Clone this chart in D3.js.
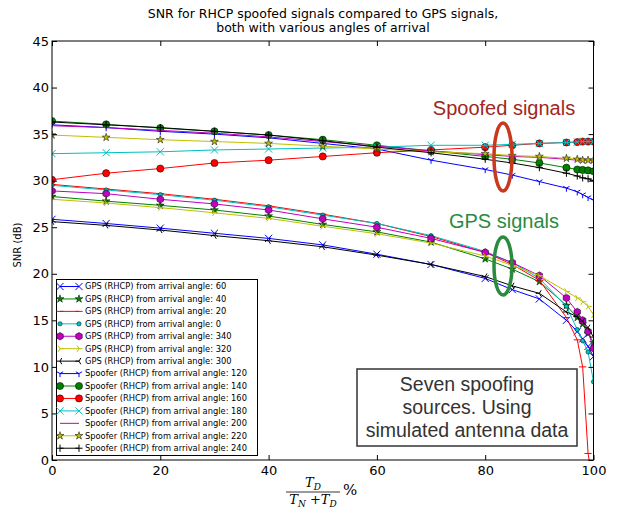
<!DOCTYPE html>
<html><head><meta charset="utf-8">
<script src="https://cdn.jsdelivr.net/npm/d3@7"></script>
<style>body{margin:0;background:#fff}svg{display:block}</style></head>
<body><svg id="c" width="622" height="510"></svg>
<script>
// ---- data ----
const xValues = [0,10,20,30,40,50,60,70,80,85,90,95,97,98,99,100];
const xTicks = [0,20,40,60,80,100];
const yTicks = [0,5,10,15,20,25,30,35,40,45];
const seriesNames = [
  "GPS (RHCP) from arrival angle: 60","GPS (RHCP) from arrival angle: 40","GPS (RHCP) from arrival angle: 20",
  "GPS (RHCP) from arrival angle: 0","GPS (RHCP) from arrival angle: 340","GPS (RHCP) from arrival angle: 320",
  "GPS (RHCP) from arrival angle: 300","Spoofer (RHCP) from arrival angle: 120","Spoofer (RHCP) from arrival angle: 140",
  "Spoofer (RHCP) from arrival angle: 160","Spoofer (RHCP) from arrival angle: 180","Spoofer (RHCP) from arrival angle: 200",
  "Spoofer (RHCP) from arrival angle: 220","Spoofer (RHCP) from arrival angle: 240"];
const gps60  = [25.85,25.4,24.9,24.35,23.8,23.1,22.1,21.0,19.5,18.3,17.3,15.0,13.8,13.0,12.2,11.1];
const gps40  = [28.3,27.8,27.35,26.85,26.2,25.3,24.5,23.4,21.6,20.5,19.15,16.6,15.3,14.6,13.6,12.6];
const gps20  = [29.6,29.1,28.6,28.0,27.3,26.4,25.4,24.0,22.3,21.0,19.3,15.3,12.9,10.0,0.7,-3];
const gps0   = [29.5,29.0,28.5,27.9,27.2,26.3,25.4,24.1,22.4,21.2,19.5,16.5,14.0,12.8,11.6,8.4];
const gps340 = [28.9,28.6,28.0,27.5,26.85,25.9,25.0,23.8,22.3,21.2,19.8,17.4,15.9,15.0,13.8,12.0];
const gps320 = [28.0,27.6,27.1,26.55,25.95,25.1,24.3,23.3,21.9,20.9,19.8,18.1,17.4,17.0,16.5,15.6];
const gps300 = [25.6,25.2,24.7,24.1,23.55,22.9,22.0,21.0,19.7,18.7,17.9,15.9,15.4,14.9,14.2,13.2];
const spf120 = [36.0,35.7,35.3,35.0,34.6,34.0,33.4,32.2,31.2,30.6,29.9,29.2,28.8,28.5,28.2,27.9];
const spf140 = [36.4,36.05,35.65,35.3,34.9,34.4,33.8,33.2,32.6,32.3,31.9,31.4,31.2,31.15,31.1,31.0];
const spf160 = [30.1,30.8,31.3,31.9,32.2,32.6,33.0,33.3,33.6,33.8,34.0,34.1,34.15,34.2,34.2,34.2];
const spf180 = [32.9,33.0,33.1,33.3,33.4,33.5,33.6,33.8,33.8,33.9,34.0,34.1,34.15,34.2,34.2,34.2];
const spf200 = [35.9,35.7,35.4,35.1,34.7,34.2,33.7,33.2,32.8,32.6,32.5,32.3,32.2,32.2,32.2,32.1];
const spf220 = [34.9,34.65,34.4,34.2,34.0,33.7,33.4,33.1,32.9,32.7,32.6,32.4,32.3,32.2,32.2,32.2];
const spf240 = [36.3,36.0,35.7,35.3,34.9,34.3,33.6,33.0,32.3,31.9,31.4,30.8,30.5,30.3,30.2,30.0];
const seriesValues = [gps60,gps40,gps20,gps0,gps340,gps320,gps300,spf120,spf140,spf160,spf180,spf200,spf220,spf240];
const seriesColors = ["#0000ff","#008000","#ff0000","#00bfbf","#bf00bf","#bfbf00","#000000",
                      "#0000ff","#008000","#ff0000","#00bfbf","#bf00bf","#bfbf00","#000000"];
const seriesMarkers = ["x","star","_","dot","hex","tri_right","tri_left","tri_down","circle","circle","x","none","star","+"];

(function(){
const L=52, R=593.5, T=41, B=460;
const svg = d3.select("#c");
const x = d3.scaleLinear().domain([0,100]).range([L,R]);
const y = d3.scaleLinear().domain([0,45]).range([B,T]);

function markerPath(type, r){
  const c30=Math.cos(Math.PI/6), s30=0.5;
  switch(type){
    case "x": return `M${-r},${-r}L${r},${r}M${-r},${r}L${r},${-r}`;
    case "+": return `M${-r},0L${r},0M0,${-r}L0,${r}`;
    case "_": return `M${-r},0L${r},0`;
    case "tri_down": return `M0,0L0,${r}M0,0L${-r*c30},${-r*s30}M0,0L${r*c30},${-r*s30}`;
    case "tri_left": return `M0,0L${-r},0M0,0L${r*s30},${-r*c30}M0,0L${r*s30},${r*c30}`;
    case "tri_right": return `M0,0L${r},0M0,0L${-r*s30},${-r*c30}M0,0L${-r*s30},${r*c30}`;
    case "circle": return d3.arc()({innerRadius:0,outerRadius:r,startAngle:0,endAngle:2*Math.PI});
    case "dot": return d3.arc()({innerRadius:0,outerRadius:r*0.6,startAngle:0,endAngle:2*Math.PI});
    case "hex": { let p=[]; for(let i=0;i<6;i++){const a=Math.PI/3*i-Math.PI/2; p.push([r*1.05*Math.cos(a), r*1.05*Math.sin(a)]);} return "M"+p.join("L")+"Z"; }
    case "star": { let p=[]; for(let i=0;i<10;i++){const a=Math.PI/5*i-Math.PI/2; const rr=(i%2?0.42:1.15)*r; p.push([rr*Math.cos(a), rr*Math.sin(a)]);} return "M"+p.join("L")+"Z"; }
  }
  return "";
}
const filled = {circle:true,dot:true,hex:true,star:true};
function drawMarkers(g, type, color, pts){
  if(type==="none") return;
  const r = 3.6;
  g.selectAll(null).data(pts).enter().append("path")
    .attr("transform", d=>`translate(${d[0]},${d[1]})`)
    .attr("d", markerPath(type, r))
    .attr("fill", filled[type]?color:"none")
    .attr("stroke", filled[type]?"#000":color)
    .attr("stroke-width", filled[type]?0.5:1);
}

svg.append("defs").append("clipPath").attr("id","clip")
  .append("rect").attr("x",L).attr("y",T).attr("width",R-L).attr("height",B-T);

const plot = svg.append("g").attr("clip-path","url(#clip)");
const line = d3.line().x(d=>d[0]).y(d=>d[1]);
seriesValues.forEach((vals,i)=>{
  const pts = xValues.map((xv,j)=>[x(xv), y(vals[j])]);
  const g = plot.append("g");
  g.append("path").attr("d", line(pts)).attr("fill","none")
    .attr("stroke", seriesColors[i]).attr("stroke-width",1);
  drawMarkers(g, seriesMarkers[i], seriesColors[i], pts);
});

const fontTick = "DejaVu Sans, sans-serif";
const ax = svg.append("g");
ax.append("g").attr("transform",`translate(0,${B})`)
  .call(d3.axisBottom(x).tickValues(xTicks).tickSize(-5).tickPadding(6));
ax.append("g").attr("transform",`translate(0,${T})`)
  .call(d3.axisTop(x).tickValues(xTicks).tickSize(-5).tickFormat(""));
ax.append("g").attr("transform",`translate(${L},0)`)
  .call(d3.axisLeft(y).tickValues(yTicks).tickSize(-5).tickPadding(3));
ax.append("g").attr("transform",`translate(${R},0)`)
  .call(d3.axisRight(y).tickValues(yTicks).tickSize(-5).tickFormat(""));
ax.selectAll(".domain").remove();
ax.selectAll("text").attr("font-family",fontTick).attr("font-size",13).attr("fill","#000");
ax.selectAll(".tick line").attr("stroke","#000");
svg.append("rect").attr("x",L).attr("y",T).attr("width",R-L).attr("height",B-T)
  .attr("fill","none").attr("stroke","#000").attr("stroke-width",1);

const title = svg.append("text").attr("font-family",fontTick).attr("font-size",12.5)
  .attr("text-anchor","middle").attr("fill","#000");
title.append("tspan").attr("x",323).attr("y",18).text("SNR for RHCP spoofed signals compared to GPS signals,");
title.append("tspan").attr("x",323).attr("y",32).text("both with various angles of arrival");

svg.append("text").attr("transform","translate(21,245) rotate(-90)").attr("text-anchor","middle")
  .attr("font-family",fontTick).attr("font-size",10).text("SNR (dB)");

const mf = "'DejaVu Serif', serif";
const xl = svg.append("g").attr("font-family",mf).attr("font-style","italic");
const num = xl.append("text").attr("x",313).attr("y",487).attr("text-anchor","middle").attr("font-size",13);
num.append("tspan").text("T");
num.append("tspan").attr("font-size",9).attr("dy",3).text("D");
xl.append("line").attr("x1",286).attr("x2",340).attr("y1",492).attr("y2",492).attr("stroke","#000").attr("stroke-width",0.8);
const den = xl.append("text").attr("x",313).attr("y",504).attr("text-anchor","middle").attr("font-size",13);
den.append("tspan").text("T");
den.append("tspan").attr("font-size",9).attr("dy",3).text("N");
den.append("tspan").attr("dy",-3).attr("font-style","normal").text(" +");
den.append("tspan").text("T");
den.append("tspan").attr("font-size",9).attr("dy",3).text("D");
xl.append("text").attr("x",343).attr("y",495).attr("font-size",15).attr("font-style","normal").text("%");

const lg = svg.append("g");
lg.append("rect").attr("x",56.5).attr("y",279.5).attr("width",201).attr("height",176)
  .attr("fill","#fff").attr("stroke","#000").attr("stroke-width",1);
seriesNames.forEach((name,i)=>{
  const cy = 286.5 + i*12.44;
  const g = lg.append("g");
  g.append("line").attr("x1",60).attr("x2",79).attr("y1",cy).attr("y2",cy)
    .attr("stroke",seriesColors[i]).attr("stroke-width",1);
  drawMarkers(g, seriesMarkers[i], seriesColors[i], [[60,cy],[79,cy]]);
  g.append("text").attr("x",85).attr("y",cy).attr("dy","0.35em").attr("font-family",fontTick)
    .attr("font-size",8.3).text(name);
});

const af = "'Liberation Sans', Arial, sans-serif";
svg.append("text").attr("x",504).attr("y",115).attr("text-anchor","middle").attr("font-family",af)
  .attr("font-size",20).attr("fill","#a0281e").text("Spoofed signals");
svg.append("text").attr("x",504).attr("y",228).attr("text-anchor","middle").attr("font-family",af)
  .attr("font-size",20).attr("fill","#2a8b3f").text("GPS signals");
svg.append("ellipse").attr("cx",503).attr("cy",157).attr("rx",9).attr("ry",34)
  .attr("fill","none").attr("stroke","#c8391e").attr("stroke-width",3.5);
svg.append("ellipse").attr("cx",503).attr("cy",266).attr("rx",9).attr("ry",29)
  .attr("fill","none").attr("stroke","#2a8b3f").attr("stroke-width",3.5);
svg.append("rect").attr("x",357).attr("y",369).attr("width",220).attr("height",77)
  .attr("fill","#fff").attr("stroke","#333").attr("stroke-width",1.5);
const bt = svg.append("text").attr("text-anchor","middle").attr("font-family",af).attr("font-size",19.5).attr("fill","#333");
[["Seven spoofing",391],["sources. Using",414],["simulated antenna data",437]].forEach(([t,yy])=>{
  bt.append("tspan").attr("x",467).attr("y",yy).text(t);
});
})();
</script></body></html>
